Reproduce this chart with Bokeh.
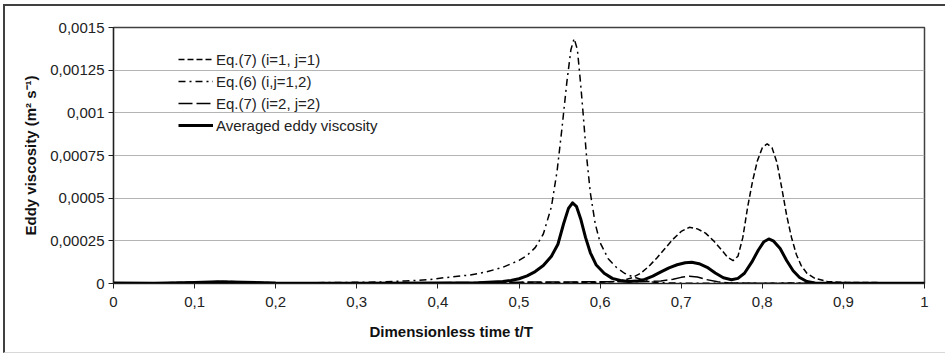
from bokeh.plotting import figure
from bokeh.models import FixedTicker, Legend, LegendItem, Title
from bokeh.embed import file_html
from bokeh.resources import INLINE

# ---------------- data (values in units of 1e-5 m^2 s^-1) ----------------
t_eq7_11 = [0, 0.05, 0.1, 0.13, 0.16, 0.2, 0.25, 0.3, 0.4, 0.5, 0.55, 0.6, 0.62, 0.63,
            0.64, 0.65, 0.66, 0.67, 0.68, 0.69, 0.70, 0.71, 0.72, 0.73, 0.74, 0.75, 0.757,
            0.764, 0.77, 0.776, 0.782, 0.788, 0.794, 0.800, 0.806, 0.812, 0.818, 0.824,
            0.830, 0.836, 0.842, 0.848, 0.855, 0.865, 0.88, 0.904, 0.95, 1.0]
v_eq7_11 = [0.5, 0.3, 0.8, 1.2, 1.0, 0.4, 0.2, 0.2, 0.3, 0.5, 0.6, 0.8, 1.2, 2.0,
            3.5, 6.0, 10.0, 15.0, 20.5, 26.0, 30.5, 32.9, 32.0, 29.5, 25.0, 19.5, 15.5,
            13.4, 16.0, 27.0, 45.0, 60.0, 72.0, 79.5, 81.9, 79.5, 71.0, 56.0,
            40.0, 27.0, 17.0, 10.5, 6.0, 3.0, 1.2, 0.6, 0.5, 0.5]

t_eq6 = [0, 0.1, 0.2, 0.25, 0.3, 0.33, 0.36, 0.39, 0.41, 0.44, 0.46, 0.48, 0.50, 0.51,
         0.52, 0.53, 0.54, 0.547, 0.553, 0.559, 0.564, 0.568, 0.572, 0.576, 0.579, 0.583,
         0.588, 0.594, 0.60, 0.61, 0.62, 0.63, 0.64, 0.65, 0.66, 0.67, 0.7, 0.8, 0.9, 1.0]
v_eq6 = [0.2, 0.3, 0.3, 0.5, 0.7, 0.9, 1.5, 2.3, 3.5, 5.0, 6.8, 9.5, 13.5, 16.5,
         21.0, 29.0, 45.0, 66.0, 91.0, 118.0, 137.0, 143.6, 137.0, 117.0, 100.0, 76.0,
         53.0, 35.0, 24.0, 14.5, 9.5, 6.0, 4.0, 2.5, 1.2, 0.5, 0.2, 0.2, 0.3, 0.3]

t_eq7_22 = [0, 0.1, 0.2, 0.3, 0.4, 0.5, 0.6, 0.65, 0.675, 0.69, 0.70, 0.71, 0.72, 0.73,
            0.745, 0.76, 0.8, 0.9, 1.0]
v_eq7_22 = [0.3, 0.5, 0.4, 0.3, 0.5, 0.8, 1.0, 1.0, 1.4, 2.5, 3.6, 4.3, 3.8, 2.4,
            1.0, 0.3, 0.2, 0.2, 0.2]

t_avg = [0, 0.05, 0.1, 0.13, 0.16, 0.2, 0.3, 0.4, 0.45, 0.48, 0.49, 0.50, 0.51, 0.52,
         0.53, 0.54, 0.548, 0.555, 0.561, 0.566, 0.571, 0.576, 0.582, 0.588, 0.595,
         0.605, 0.615, 0.625, 0.635, 0.645, 0.655, 0.665, 0.675, 0.685, 0.695, 0.705,
         0.713, 0.722, 0.732, 0.742, 0.752, 0.762, 0.770, 0.778, 0.787, 0.795, 0.802,
         0.808, 0.814, 0.822, 0.830, 0.838, 0.846, 0.855, 0.865, 0.9, 1.0]
v_avg = [0.3, 0.2, 0.6, 1.0, 0.8, 0.3, 0.2, 0.3, 0.5, 1.2, 1.8, 2.8, 4.5, 7.0,
         10.5, 16.0, 23.0, 35.0, 44.0, 47.3, 45.0, 38.0, 27.0, 18.0, 11.0,
         6.0, 3.0, 1.75, 1.2, 1.4, 2.4, 4.3, 6.8, 9.2, 11.0, 12.2,
         12.4, 11.6, 9.5, 6.2, 3.4, 2.2, 3.0, 6.0, 12.5, 19.5, 24.5,
         26.1, 24.8, 20.5, 13.5, 7.5, 3.5, 1.2, 0.3, 0.1, 0.1]

scale = 1e-5  # the value lists above are in units of 1e-5 m^2 s^-1

series_labels = ["Eq.(7) (i=1, j=1)", "Eq.(6) (i,j=1,2)", "Eq.(7) (i=2, j=2)",
                 "Averaged eddy viscosity"]

x_ticks = [0, 0.1, 0.2, 0.3, 0.4, 0.5, 0.6, 0.7, 0.8, 0.9, 1.0]
x_tick_labels = ["0", "0,1", "0,2", "0,3", "0,4", "0,5", "0,6", "0,7", "0,8", "0,9", "1"]
y_ticks = [0, 0.00025, 0.0005, 0.00075, 0.001, 0.00125, 0.0015]
y_tick_labels = ["0", "0,00025", "0,0005", "0,00075", "0,001", "0,00125", "0,0015"]

x_title = "Dimensionless time t/T"
y_title = "Eddy viscosity (m\u00b2 s\u207b\u00b9)"

FONT = "Liberation Sans"

# ---------------- figure ----------------
p = figure(width=942, height=349, output_backend="svg", toolbar_location=None,
           x_range=(0, 1), y_range=(0, 0.0015),
           min_border_left=108, min_border_right=23, min_border_top=21, min_border_bottom=72,
           styles={"margin-left": "3px", "margin-top": "4px",
                   "border-left": "2px solid #404040", "border-top": "2px solid #404040",
                   "border-bottom": "1px solid #d8d8d8"})
p.background_fill_color = "white"
p.border_fill_color = "white"
p.outline_line_color = "#404040"
p.outline_line_width = 1.5

r1 = p.line(t_eq7_11, [v * scale for v in v_eq7_11],
            line_color="black", line_width=1.5, line_dash="6 3")
r2 = p.line(t_eq6, [v * scale for v in v_eq6],
            line_color="black", line_width=1.5, line_dash="7 4 2 4")
r3 = p.line(t_eq7_22, [v * scale for v in v_eq7_22],
            line_color="black", line_width=1.5, line_dash="14 4")
r4 = p.line(t_avg, [v * scale for v in v_avg],
            line_color="black", line_width=3, line_join="round")

# axes
p.xaxis.ticker = FixedTicker(ticks=x_ticks)
p.xaxis.major_label_overrides = {k: s for k, s in zip(x_ticks, x_tick_labels)}
p.yaxis.ticker = FixedTicker(ticks=y_ticks)
p.yaxis.major_label_overrides = {k: s for k, s in zip(y_ticks, y_tick_labels)}
for ax in (p.xaxis[0], p.yaxis[0]):
    ax.axis_line_color = "#202020"
    ax.axis_line_width = 1.2
    ax.major_tick_line_color = "#202020"
    ax.major_tick_in = 0
    ax.major_tick_out = 5
    ax.minor_tick_line_color = None
    ax.major_label_text_font = FONT
    ax.major_label_text_font_size = "15px"
    ax.major_label_text_color = "#222222"
    ax.axis_label_text_font = FONT
    ax.axis_label_text_font_size = "15px"
    ax.axis_label_text_font_style = "bold"
    ax.axis_label_text_color = "#111111"
p.xaxis[0].major_label_standoff = 8
p.yaxis[0].major_label_standoff = 4
p.yaxis[0].axis_label = y_title
p.yaxis[0].axis_label_standoff = 8

# x title, placed left of centre as in the reference
xt = Title(text=x_title, align="left", offset=245, text_font=FONT,
           text_font_size="15px", text_font_style="bold", text_color="#111111",
           standoff=0, padding=11)
p.add_layout(xt, "below")

p.xgrid.grid_line_color = None
p.ygrid.grid_line_color = "#b4b4b4"
p.ygrid.grid_line_width = 1

legend = Legend(items=[LegendItem(label=series_labels[0], renderers=[r1]),
                       LegendItem(label=series_labels[1], renderers=[r2]),
                       LegendItem(label=series_labels[2], renderers=[r3]),
                       LegendItem(label=series_labels[3], renderers=[r4])],
                location=(65, 147), orientation="vertical")
legend.margin = 0
legend.padding = 0
legend.spacing = 0
legend.label_height = 22
legend.glyph_height = 22
legend.glyph_width = 35
legend.label_standoff = 3
legend.label_text_font = FONT
legend.label_text_font_size = "15px"
legend.label_text_color = "#222222"
legend.border_line_color = None
legend.background_fill_alpha = 0
p.add_layout(legend, "center")

open("out.html", "w").write(file_html(p, INLINE))
